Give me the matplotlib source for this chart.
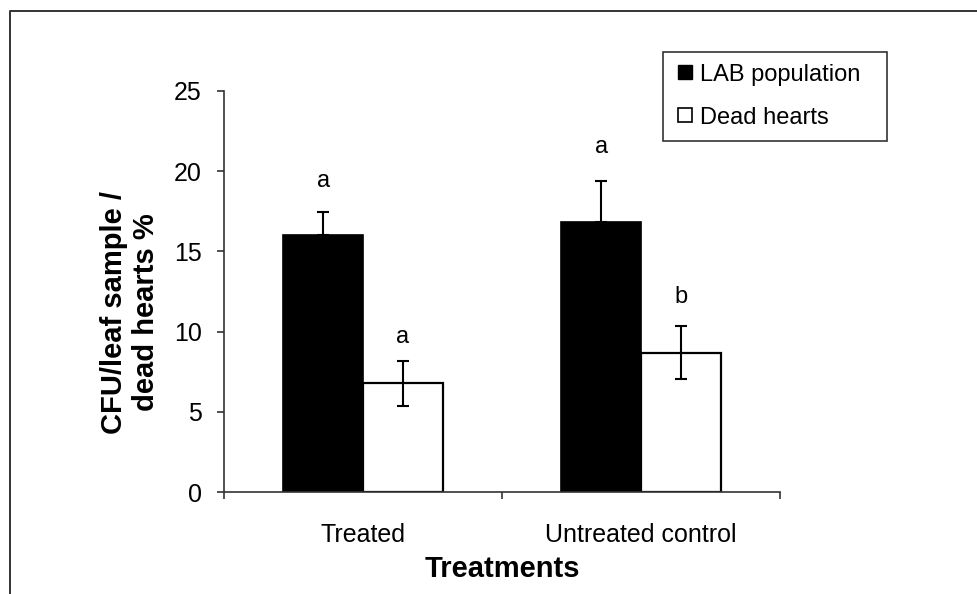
#!/usr/bin/env python3
# -*- coding: utf-8 -*-
"""
LAB population vs dead hearts, treated vs untreated control
grouped bar chart with error bars and significance letters
"""
import matplotlib
matplotlib.use("Agg")
import matplotlib.pyplot as plt
from matplotlib.lines import Line2D

plt.rcParams['font.family'] = ['Liberation Sans', 'DejaVu Sans']

# ======================== data ========================
categories = ["Treated", "Untreated control"]
series_names = ["LAB population", "Dead hearts"]
lab_values = [16.0, 16.8]
lab_err = [1.45, 2.6]
dead_values = [6.8, 8.7]
dead_err = [1.4, 1.65]
lab_letters = ["a", "a"]
dead_letters = ["a", "b"]
# letter baselines
lab_letter_y = [19.0, 21.1]
dead_letter_y = [9.3, 11.8]
y_ticks = [0, 5, 10, 15, 20, 25]

W, H = 977, 594
fig = plt.figure(figsize=(W / 100, H / 100), dpi=100)
ax = fig.add_axes([224 / W, 1 - 492.3 / H, (780 - 224) / W, (492.3 - 90.7) / H])

bar_w = 0.286
centers = [0.5, 1.5]
lab_x = [c - bar_w / 2 for c in centers]
dead_x = [c + bar_w / 2 for c in centers]

# 柱子
ax.bar(lab_x, lab_values, width=bar_w, color="black", edgecolor="black", linewidth=1.2, zorder=2)
ax.bar(dead_x, dead_values, width=bar_w, color="white", edgecolor="black", linewidth=1.6, zorder=2)

# 误差线：LAB只画上半部分
ax.errorbar(lab_x, lab_values, yerr=[[0] * len(lab_err), lab_err], fmt="none",
            ecolor="black", elinewidth=1.5, capsize=4.3, capthick=1.5, zorder=3)
ax.errorbar(dead_x, dead_values, yerr=dead_err, fmt="none",
            ecolor="black", elinewidth=1.5, capsize=4.3, capthick=1.5, zorder=3)

# 显著性字母
for x, y, s in zip(lab_x, lab_letter_y, lab_letters):
    ax.text(x, y, s, ha="center", va="baseline", fontsize=17)
for x, y, s in zip(dead_x, dead_letter_y, dead_letters):
    ax.text(x, y, s, ha="center", va="baseline", fontsize=17)

ax.set_xlim(0, 2)
ax.set_ylim(0, 25)
ax.set_yticks(y_ticks)
ax.set_xticks([0, 1, 2])
ax.set_xticklabels([])
ax.set_xticks(centers, minor=True)
ax.set_xticklabels(categories, minor=True, fontsize=18)
ax.tick_params(axis="x", which="minor", length=0, pad=22)
ax.tick_params(axis="x", which="major", length=5, width=1.2, direction="out", color="#333333")
ax.tick_params(axis="y", length=5, width=1.2, direction="out", color="#333333", labelsize=18, pad=11)

for side in ["top", "right"]:
    ax.spines[side].set_visible(False)
for side in ["left", "bottom"]:
    ax.spines[side].set_linewidth(1.2)
    ax.spines[side].set_color("#333333")

ax.set_xlabel("Treatments", fontsize=21, fontweight="bold", labelpad=6)
fig.text(130 / W, 1 - 312 / H, "CFU/leaf sample /\ndead hearts %", rotation=90,
         ha="center", va="center", fontsize=21, fontweight="bold", linespacing=1.15)

# 图例（方块标记）
handles = [Line2D([], [], marker="s", linestyle="none", markersize=9.4,
                  markerfacecolor="black", markeredgecolor="black"),
           Line2D([], [], marker="s", linestyle="none", markersize=9.4,
                  markerfacecolor="white", markeredgecolor="black", markeredgewidth=1.2)]
leg_top = 1 - 51.7 / H
leg = fig.legend(handles, series_names, loc="upper left", mode="expand",
                 bbox_to_anchor=(663 / W, 0.5, 224 / W, leg_top - 0.5), fontsize=17,
                 handlelength=0.9, handletextpad=0.15,
                 labelspacing=0.9, borderpad=0.5, borderaxespad=0,
                 fancybox=False, framealpha=1)
leg.get_frame().set_edgecolor("#333333")
leg.get_frame().set_linewidth(1.2)

# 外框（左边和上边）
fig.add_artist(Line2D([9.5 / W, 9.5 / W, 1.0], [0.0, 1 - 10.5 / H, 1 - 10.5 / H],
                      transform=fig.transFigure, color="#333333", linewidth=1.4))

fig.savefig("out.png", dpi=100)
